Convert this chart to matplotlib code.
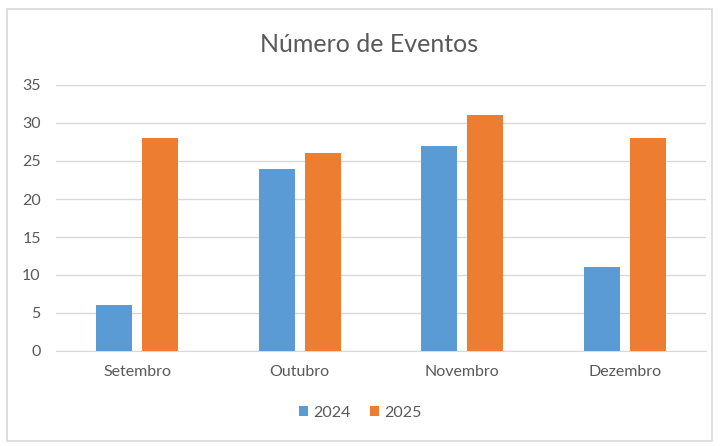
import matplotlib
matplotlib.use('Agg')
import matplotlib.pyplot as plt
from matplotlib.patches import Rectangle
import numpy as np

plt.rcParams['font.family'] = ['Lato', 'DejaVu Sans']

months = ['Setembro', 'Outubro', 'Novembro', 'Dezembro']
events_2024 = [6, 24, 27, 11]
events_2025 = [28, 26, 31, 28]
series_labels = ['2024', '2025']

blue = '#5b9bd5'
orange = '#ed7d31'
text_gray = '#595959'
grid_gray = '#d9d9d9'

fig = plt.figure(figsize=(7.2, 4.46), dpi=100)
fig.patch.set_facecolor('white')

# chart border
fig.patches.append(Rectangle((7 / 720, 1 - 441 / 446), 705 / 720, 432 / 446,
                             transform=fig.transFigure, fill=False,
                             edgecolor=grid_gray, linewidth=1.2))

ax = fig.add_axes([56 / 720, 1 - 351 / 446, 650 / 720, 266 / 446])

x = np.arange(len(months))
width = 0.22
offset = 0.142
ax.bar(x - offset, events_2024, width, color=blue, label=series_labels[0], zorder=3)
ax.bar(x + offset, events_2025, width, color=orange, label=series_labels[1], zorder=3)

ax.set_xlim(-0.5, len(months) - 0.5)
ax.set_ylim(0, 35)
ax.set_yticks(range(0, 36, 5))
ax.set_xticks(x)
ax.set_xticklabels(months)
ax.yaxis.grid(True, color=grid_gray, linewidth=1)
ax.set_axisbelow(True)

for side in ['top', 'right', 'left']:
    ax.spines[side].set_visible(False)
ax.spines['bottom'].set_color(grid_gray)
ax.tick_params(axis='both', length=0, colors=text_gray, labelsize=11.5)
ax.tick_params(axis='x', pad=10)
ax.tick_params(axis='y', pad=11)

fig.text(369 / 720, 1 - 45 / 446, 'Número de Eventos', ha='center', va='center',
         fontsize=18, color=text_gray)

fig.legend(loc='center', bbox_to_anchor=(0.5, 1 - 413 / 446), ncol=2,
           frameon=False, fontsize=11.5, labelcolor=text_gray,
           handlelength=0.6, handleheight=0.6, handletextpad=0.3,
           columnspacing=1.2)

fig.savefig('out.png', dpi=100)
